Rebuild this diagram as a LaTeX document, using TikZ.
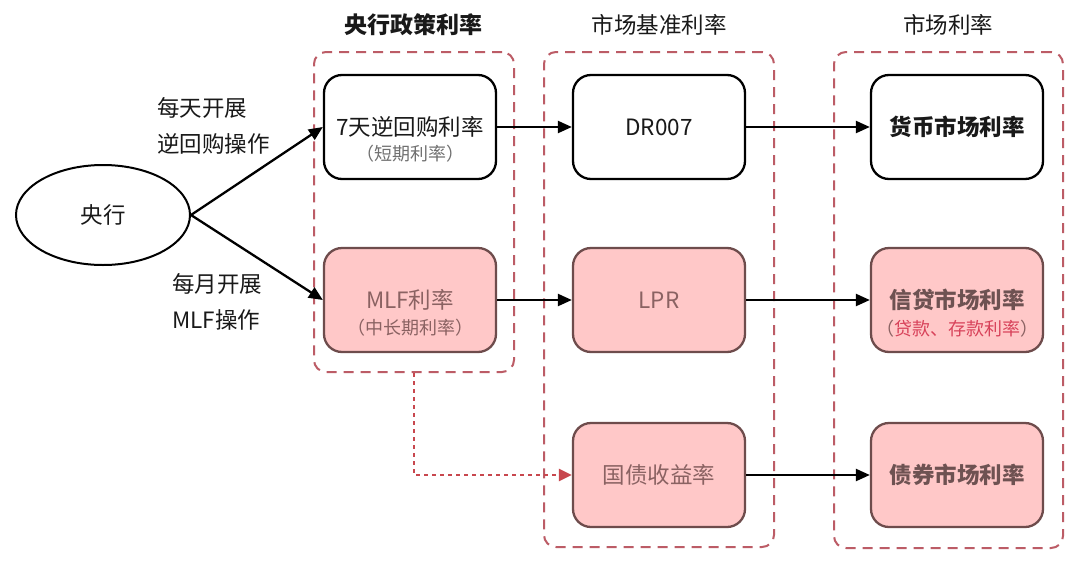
\documentclass[tikz,border=0pt]{standalone}
\usepackage{fontspec}
\setmainfont{Noto Sans CJK SC}
\usetikzlibrary{arrows.meta,shapes.geometric}
\definecolor{pinkfill}{HTML}{FFC8C8}
\definecolor{pinkdraw}{HTML}{6E4C4C}
\definecolor{pinktext}{HTML}{8A6262}
\definecolor{pinkbold}{HTML}{6E5252}
\definecolor{grpc}{HTML}{BC5C66}
\definecolor{redsub}{HTML}{D8425A}
\definecolor{dotc}{HTML}{C8474E}
\definecolor{subgray}{HTML}{707070}
\begin{document}
\begin{tikzpicture}[x=1pt,y=-1pt,
  box/.style={draw=black, line width=2.3pt, rounded corners=18pt, fill=white,
    minimum width=172pt, minimum height=104pt, align=center, inner sep=0pt,
    font=\fontsize{22.5}{26}\selectfont, text=black!90},
  pbox/.style={box, fill=pinkfill, draw=pinkdraw, text=pinktext},
  sub/.style={font=\fontsize{18}{20}\selectfont, inner sep=0pt},
  grp/.style={draw=grpc, dash pattern=on 10pt off 7pt, line width=2pt,
    rounded corners=12pt, inner sep=0pt},
  head/.style={font=\fontsize{22.5}{26}\selectfont, text=black!90, inner sep=0pt},
  lab/.style={font=\fontsize{22.5}{36}\selectfont, align=left, anchor=west, text=black!90, inner sep=0pt},
  arr/.style={-{Triangle[length=14pt,width=12pt]}, line width=2.3pt},
  dotarr/.style={-{Triangle[length=13pt,width=12pt]}, line width=2.3pt, draw=dotc,
    dash pattern=on 4pt off 4pt}
]
\useasboundingbox[fill=white] (0,0) rectangle (1080,563);

% groups
\node[grp, minimum width=200pt, minimum height=320pt] (g1) at (414,212) {};
\node[grp, minimum width=230pt, minimum height=495pt] (g2) at (659,299.5) {};
\node[grp, minimum width=229pt, minimum height=496pt] (g3) at (948.5,300) {};

% headers
\node[head, font=\fontsize{23}{26}\selectfont\bfseries] (h1) at (413,25) {央行政策利率};
\node[head] (h2) at (659,25) {市场基准利率};
\node[head] (h3) at (948,25) {市场利率};

% central bank
\node[draw, ellipse, line width=2pt, minimum width=174pt, minimum height=100pt,
  font=\fontsize{22.5}{26}\selectfont, text=black!90] (cb) at (103,215) {央行};

% boxes
\node[box] (b1) at (410,127) {7天逆回购利率};
\node[sub, text=subgray] (b1s) at ([yshift=-27pt]b1.center) {（短期利率）};
\node[box] (b2) at (659,127) {DR007};
\node[box, font=\fontsize{22.5}{26}\selectfont\bfseries] (b3) at (957,127) {货币市场利率};

\node[pbox] (b4) at (410,300) {MLF利率};
\node[sub, text=pinktext] (b4s) at ([yshift=-28pt]b4.center) {（中长期利率）};
\node[pbox] (b5) at (659,300) {LPR};
\node[pbox, text=pinkbold, font=\fontsize{22.5}{26}\selectfont\bfseries] (b6) at (957,300) {信贷市场利率};
\node[sub, text=pinktext] (b6s) at ([yshift=-29pt]b6.center) {（\textcolor{redsub}{贷款、存款利率}）};

\node[pbox] (b7) at (659,475) {国债收益率};
\node[pbox, text=pinkbold, font=\fontsize{22.5}{26}\selectfont\bfseries] (b8) at (957,475) {债券市场利率};

% labels
\node[lab] (l1) at (157,126) {每天开展\\逆回购操作};
\node[lab] (l2) at (172,302) {每月开展\\MLF操作};

% arrows
\draw[arr] (cb.east) -- (b1.west);
\draw[arr] (cb.east) -- (b4.west);
\draw[arr] (b1.east) -- (b2.west);
\draw[arr] (b2.east) -- (b3.west);
\draw[arr] (b4.east) -- (b5.west);
\draw[arr] (b5.east) -- (b6.west);
\draw[arr] (b7.east) -- (b8.west);
\draw[dotarr] (g1.south) |- (b7.west);
\end{tikzpicture}
\end{document}
